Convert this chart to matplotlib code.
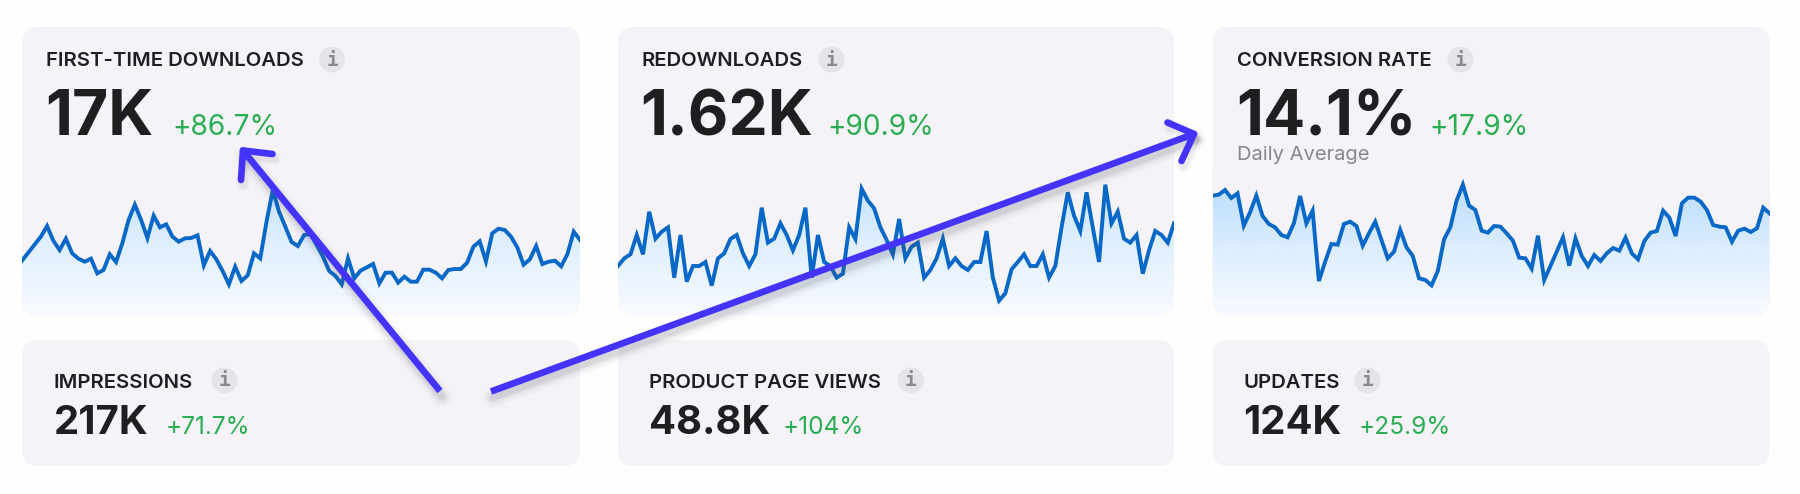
import numpy as np
import matplotlib
matplotlib.use("Agg")
import matplotlib.pyplot as plt
from matplotlib.patches import FancyBboxPatch, Circle
from matplotlib.colors import LinearSegmentedColormap

plt.rcParams["font.family"] = ["Inter", "DejaVu Sans"]

W, H = 1800, 494

# daily values for the three sparkline cards
first_time = [166, 190, 214, 238, 270, 226, 198, 232, 188, 172, 163, 172, 128, 138, 185, 162, 218, 288, 334, 288,
              234, 301, 266, 275, 238, 223, 233, 234, 242, 152, 195, 170, 135, 95, 148, 105, 122, 188, 173, 283,
              378, 313, 268, 222, 210, 243, 246, 213, 178, 135, 120, 95, 173, 113, 136, 146, 156, 98, 130, 130,
              100, 118, 103, 103, 139, 139, 130, 113, 138, 141, 141, 160, 208, 224, 164, 248, 262, 258, 238, 206,
              154, 170, 210, 156, 163, 166, 149, 186, 253, 228]
redownloads = [150, 173, 185, 243, 185, 313, 232, 253, 266, 115, 243, 103, 150, 150, 162, 91, 173, 188, 231, 243,
               188, 150, 185, 325, 220, 232, 278, 243, 197, 243, 325, 115, 243, 162, 150, 115, 127, 266, 231, 382,
               346, 323, 266, 228, 185, 291, 173, 208, 220, 115, 138, 173, 232, 150, 173, 150, 138, 162, 162, 255,
               115, 46, 68, 140, 162, 185, 150, 150, 185, 115, 150, 266, 371, 301, 255, 371, 266, 162, 394, 278,
               313, 232, 220, 243, 127, 197, 255, 243, 220, 278]
conversion = [361, 364, 378, 354, 368, 271, 311, 361, 300, 276, 266, 243, 236, 278, 360, 278, 316, 105, 163, 216,
              214, 276, 283, 270, 211, 248, 283, 228, 173, 193, 258, 206, 180, 113, 108, 92, 135, 230, 266, 346,
              394, 331, 318, 256, 250, 270, 268, 248, 226, 175, 173, 142, 241, 108, 150, 193, 236, 151, 233, 180,
              150, 183, 165, 188, 204, 196, 235, 188, 170, 225, 250, 255, 316, 295, 240, 338, 355, 355, 343, 318,
              273, 268, 266, 223, 256, 262, 252, 263, 325, 308]

top_titles = ["FIRST-TIME DOWNLOADS", "REDOWNLOADS", "CONVERSION RATE"]
top_values = ["17K", "1.62K", "14.1%"]
top_deltas = ["+86.7%", "+90.9%", "+17.9%"]
top_series = [first_time, redownloads, conversion]

bottom_titles = ["IMPRESSIONS", "PRODUCT PAGE VIEWS", "UPDATES"]
bottom_values = ["217K", "48.8K", "124K"]
bottom_deltas = ["+71.7%", "+104%", "+25.9%"]

CARD = "#f5f3f8"
INK = "#1f1e21"
GREEN = "#2bae52"
LINE = "#0868c8"
ARROW = "#4433fb"

card_left = [22, 618, 1212.5]
card_right = [580, 1174, 1769.5]

top_text_x = [46.5, 641.5, 1237]
top_info_x = [332, 831.5, 1460.5]
top_delta_x = [172.5, 827.5, 1429.5]
# height where the blue under each sparkline reaches full strength
fade_top = [440, 440, 370]

bottom_text_x = [53.5, 649, 1243.5]
bottom_info_x = [224.5, 911, 1367.5]
bottom_delta_x = [165.5, 782.5, 1358.5]

fade = LinearSegmentedColormap.from_list("fade", ["#f9faff", "#dfeffe", "#bfdffe"])

fig = plt.figure(figsize=(W / 100, H / 100), dpi=100, facecolor="#fefefe")

# page axes in pixel coordinates, y pointing down
page = fig.add_axes([0, 0, 1, 1], zorder=0)
page.set_xlim(0, W)
page.set_ylim(H, 0)
page.axis("off")


def add_card(x0, x1, y0, y1):
    r = 16
    card = FancyBboxPatch((x0 + r, y0 + r), x1 - x0 - 2 * r, y1 - y0 - 2 * r,
                          boxstyle=f"round,pad={r},rounding_size={r}",
                          facecolor=CARD, edgecolor="none")
    page.add_patch(card)
    return card


def add_info(x, y):
    page.add_patch(Circle((x, y), 13, facecolor="#e6e4ea", edgecolor="none"))
    page.text(x, y + 0.5, "i", fontsize=14, color="#8a8a8e", ha="center", va="center",
              family="DejaVu Sans Mono", fontweight="bold")


for i in range(3):
    card = add_card(card_left[i], card_right[i], 27, 316)
    page.text(top_text_x[i], 66.3, top_titles[i], fontsize=14.6, color=INK, va="baseline", fontweight="semibold")
    add_info(top_info_x[i], 59.5)
    page.text(top_text_x[i] - 1, 135, top_values[i], fontsize=45, color=INK, va="baseline", fontweight="bold")
    page.text(top_delta_x[i], 135, top_deltas[i], fontsize=20.3, color=GREEN, va="baseline")

    # sparkline with a gradient under it
    ax = fig.add_axes([card_left[i] / W, 1 - 316 / H, (card_right[i] - card_left[i]) / W, 146 / H], zorder=1)
    ax.axis("off")
    vals = np.array(top_series[i])
    days = np.arange(len(vals))
    grad = np.linspace(1, 0, 256).reshape(-1, 1)
    img = ax.imshow(grad, extent=[0, len(vals) - 1, 0, fade_top[i]], aspect="auto", cmap=fade, vmin=0, vmax=1, zorder=1)
    img.set_clip_path(card)
    ax.set_xlim(0, len(vals) - 1)
    ax.set_ylim(0, 438)
    # the area above the line is painted back in card colour, a little past both
    # ends so no blue column is left at the card edges
    cover_x = np.r_[-2, days, len(vals) + 1]
    cover_y = np.r_[vals[0], vals, vals[-1]]
    cover = ax.fill_between(cover_x, cover_y, 438, color=CARD, linewidth=0, zorder=2)
    cover.set_clip_box(None)
    cover.set_clip_path(card)
    ax.plot(days, vals, color=LINE, lw=2.8, solid_joinstyle="miter", zorder=3)

for i in range(3):
    add_card(card_left[i], card_right[i], 340, 466)
    page.text(bottom_text_x[i], 387.5, bottom_titles[i], fontsize=14.6, color=INK, va="baseline", fontweight="semibold")
    add_info(bottom_info_x[i], 380.3)
    page.text(bottom_text_x[i], 434, bottom_values[i], fontsize=28.8, color=INK, va="baseline", fontweight="bold")
    page.text(bottom_delta_x[i], 434, bottom_deltas[i], fontsize=17.6, color=GREEN, va="baseline")

page.text(1237, 160, "Daily Average", fontsize=14.5, color="#88888c", va="baseline")

# hand-drawn arrows on top of everything
over = fig.add_axes([0, 0, 1, 1], zorder=2)
over.set_xlim(0, W)
over.set_ylim(H, 0)
over.axis("off")
over.patch.set_alpha(0)


def draw_arrow(tail, tip, barb1, barb2):
    tx = [tail[0], tip[0]]
    ty = [tail[1], tip[1]]
    for w, a in [(15, 0.02), (12, 0.03), (9, 0.04), (6.5, 0.06), (4.5, 0.07)]:
        over.plot(np.array(tx) + 2, np.array(ty) + 6, color="#50505a", alpha=a, lw=w, solid_capstyle="round")
    for b in (barb1, barb2):
        for w, a in [(10, 0.025), (7, 0.04), (5, 0.05)]:
            over.plot([b[0] + 2, tip[0] + 2], [b[1] + 5, tip[1] + 5], color="#50505a", alpha=a, lw=w,
                      solid_capstyle="round")
    over.plot(tx, ty, color=ARROW, lw=4.8, solid_capstyle="butt")
    for b in (barb1, barb2):
        over.plot([b[0], tip[0]], [b[1], tip[1]], color=ARROW, lw=4.8, solid_capstyle="round")


draw_arrow((440, 391), (243, 150.5), (272.5, 154), (241, 180))
draw_arrow((491, 391.5), (1194, 134), (1167.5, 122.5), (1181.5, 161))

fig.savefig("out.png", dpi=100, facecolor=fig.get_facecolor())
